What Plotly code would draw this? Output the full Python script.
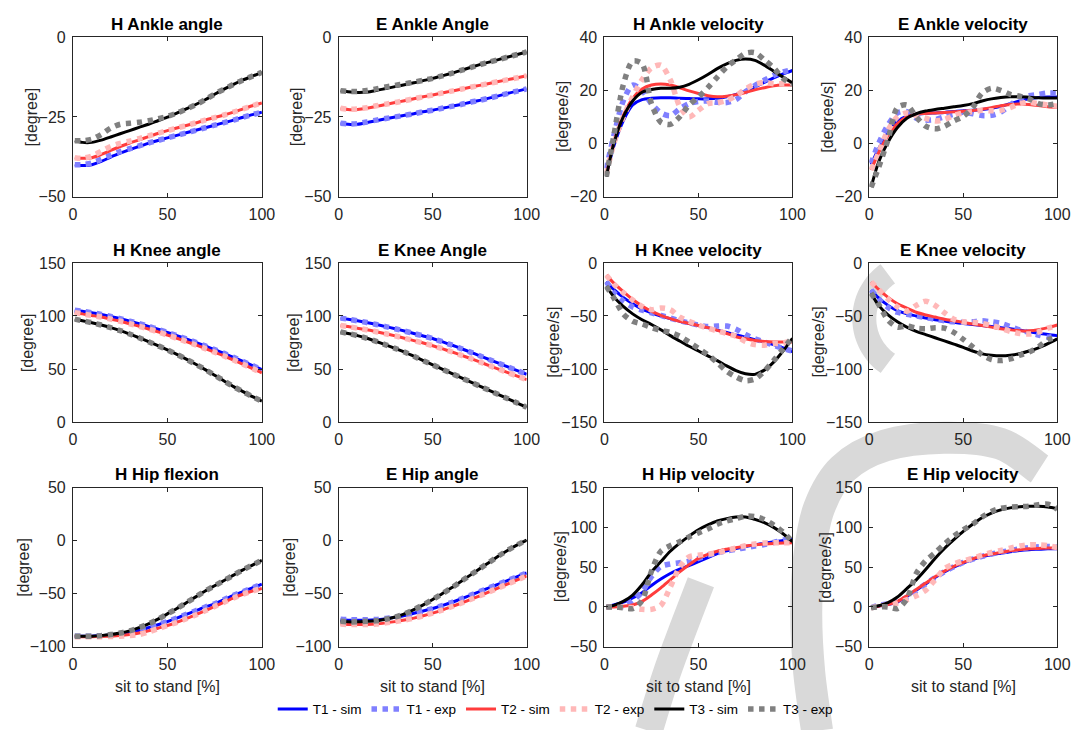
import math
import plotly.graph_objects as go

# ---------------- data ----------------
X = [1, 5, 10, 15, 20, 25, 30, 35, 40, 45, 50, 55, 60, 65, 70, 75, 80, 85, 90, 95, 100]

# H Ankle angle
HAA_T1S = [-40, -40.3, -40, -39, -37.6, -36.4, -35.3, -34.3, -33.3, -32.4, -31.6, -30.8, -30, -29.2, -28.4, -27.6, -26.8, -26, -25.1, -24.3, -23.5]
HAA_T1E = [-40, -40, -39.5, -38.3, -37, -35.9, -35, -34.1, -33.2, -32.4, -31.6, -30.8, -30, -29.2, -28.4, -27.6, -26.8, -26, -25.1, -24.3, -23.5]
HAA_T2S = [-37.8, -38, -37.8, -36.8, -35.5, -34.3, -33.2, -32.2, -31.2, -30.2, -29.3, -28.5, -27.7, -26.9, -26, -25.2, -24.4, -23.5, -22.5, -21.5, -20.6]
HAA_T2E = [-37.8, -38, -37.3, -35.8, -34.3, -33.3, -32.6, -31.8, -31, -30.1, -29.3, -28.5, -27.7, -26.9, -26, -25.2, -24.4, -23.5, -22.5, -21.5, -20.6]
HAA_T3S = [-32.5, -33, -33, -32.3, -31.3, -30.3, -29.3, -28.3, -27.3, -26.2, -25.1, -23.8, -22.5, -21.1, -19.6, -17.9, -16.3, -14.8, -13.4, -12.2, -11]
HAA_T3E = [-32.5, -32.5, -32, -30.5, -28.5, -27.3, -27, -26.7, -26.2, -25.6, -24.8, -23.8, -22.5, -21.2, -19.6, -17.8, -16.3, -14.8, -13.4, -12.2, -11]

# E Ankle Angle
EAA_T1S = [-27, -27.3, -27.3, -26.8, -26.2, -25.6, -25, -24.5, -24, -23.4, -22.9, -22.3, -21.7, -21.1, -20.4, -19.8, -19.1, -18.4, -17.6, -16.9, -16.2]
EAA_T1E = [-27, -27.2, -27.1, -26.6, -26, -25.5, -25, -24.5, -24, -23.4, -22.9, -22.3, -21.7, -21.1, -20.4, -19.8, -19.1, -18.4, -17.6, -16.9, -16.2]
EAA_T2S = [-22.3, -22.7, -22.7, -22.3, -21.7, -21.1, -20.5, -19.9, -19.3, -18.7, -18.1, -17.5, -16.9, -16.3, -15.7, -15.1, -14.5, -13.9, -13.3, -12.7, -12.1]
EAA_T2E = [-22.3, -22.6, -22.5, -22.1, -21.5, -21, -20.5, -19.9, -19.3, -18.7, -18.1, -17.5, -16.9, -16.3, -15.7, -15.1, -14.5, -13.9, -13.3, -12.7, -12.1]
EAA_T3S = [-16.8, -17.1, -17.3, -17.2, -16.7, -16.1, -15.5, -14.9, -14.3, -13.6, -12.9, -12.1, -11.3, -10.4, -9.5, -8.6, -7.8, -7, -6.2, -5.4, -4.6]
EAA_T3E = [-16.8, -17, -17, -16.7, -16.2, -15.6, -15.1, -14.6, -14.1, -13.5, -12.9, -12.1, -11.3, -10.4, -9.5, -8.6, -7.8, -7, -6.2, -5.4, -4.6]

# H Ankle velocity
HAV_T1S = [-12, -1, 8.5, 14.5, 16.5, 17, 17.2, 17.2, 17, 16.9, 16.8, 16.8, 17, 17.6, 18.5, 19.8, 21.3, 23, 24.7, 26.2, 27.5]
HAV_T1E = [-9.5, 3, 16, 22, 20, 15, 11.5, 10.5, 13, 15, 15.8, 16, 15.5, 15.4, 16.5, 19.5, 21.8, 23.8, 25.6, 27, 27.8]
HAV_T2S = [-12, 0.5, 10.5, 17, 20.5, 22, 22.4, 22, 21, 19.8, 18.8, 18, 17.6, 17.8, 18.4, 19.2, 20.2, 21, 21.7, 22, 22]
HAV_T2E = [-11.5, 0, 10, 17.5, 24, 28.5, 29.5, 24, 14, 10, 12.5, 15, 15.3, 16.2, 18, 20.5, 22.3, 23, 22.5, 22.5, 22.7]
HAV_T3S = [-12.5, 0, 10, 16, 19.3, 20.3, 20.8, 20.8, 21.2, 22.3, 24, 26, 28.2, 30, 31.3, 31.8, 31.3, 29.5, 27.2, 25, 22.8]
HAV_T3E = [-12.5, 3, 22, 31, 30, 15, 8, 7.2, 10, 14.5, 17.5, 21, 25, 28.8, 31.5, 34, 34.2, 31.5, 28.5, 24.5, 22.3]

# E Ankle velocity
EAV_T1S = [-8, -2, 4, 8.3, 10.3, 11, 11.3, 11.5, 11.7, 12, 12.3, 12.5, 12.8, 13.3, 14, 15, 16, 16.8, 17.3, 17.5, 17.5]
EAV_T1E = [-7.5, 0, 7, 11.5, 12, 9.5, 8.8, 9, 10, 11, 11.8, 11.2, 10.5, 10.6, 11.8, 14.5, 17, 18, 18.5, 19, 19]
EAV_T2S = [-10, -3.5, 3, 7.5, 10, 11, 11.3, 11.5, 11.7, 11.9, 12.1, 12.4, 12.9, 13.5, 14.2, 14.7, 14.9, 14.7, 14.3, 13.8, 13.5]
EAV_T2E = [-10, -3.5, 5, 10, 11.5, 10.5, 9.5, 8.5, 9, 10.5, 11.5, 12, 12.5, 12.3, 12.5, 13.5, 15, 15.5, 15, 14.5, 14]
EAV_T3S = [-16.5, -7, 0.5, 6, 9.5, 11.2, 12.2, 12.8, 13.3, 13.8, 14.3, 15, 16, 16.8, 17.3, 17.6, 17.6, 17.4, 17.2, 17.1, 17.1]
EAV_T3E = [-16.5, -9, 1.5, 13.5, 14.5, 10, 6.5, 5.5, 6.5, 8.5, 10.2, 13.5, 19, 20.8, 20, 18.5, 17.8, 16.8, 15, 14.5, 15]

# H Knee angle
HKA_T1S = [105.5, 104.5, 103, 101.5, 99.5, 97.5, 95.2, 92.8, 90.2, 87.5, 84.5, 81.5, 78.4, 75.2, 71.8, 68.3, 64.8, 61, 57.2, 53.3, 49.5]
HKA_T1E = [105.5, 104.5, 103, 101.5, 99.5, 97.5, 95.2, 92.8, 90.2, 87.5, 84.5, 81.5, 78.4, 75.2, 71.8, 68.3, 64.8, 61, 57.2, 53.3, 49.5]
HKA_T2S = [103, 102, 100.5, 99, 97, 95, 92.7, 90.3, 87.7, 85, 82, 79, 75.9, 72.7, 69.3, 65.8, 62.3, 58.5, 54.5, 50.5, 46.5]
HKA_T2E = [103, 102, 100.5, 99, 97, 95, 92.7, 90.3, 87.7, 85, 82, 79, 75.9, 72.7, 69.3, 65.8, 62.3, 58.5, 54.5, 50.5, 46.5]
HKA_T3S = [97, 95.5, 93.7, 91.5, 89, 86.2, 83, 79.5, 75.8, 72, 68, 63.8, 59.3, 54.5, 49.5, 44.2, 38.8, 33.4, 28.8, 24, 19.8]
HKA_T3E = [97, 95.5, 93.7, 91.5, 89, 86.2, 83, 79.5, 75.8, 72, 68, 63.8, 59.3, 54.5, 49.5, 44.2, 38.8, 33.4, 28.8, 24, 19.8]

# E Knee Angle
EKA_T1S = [98, 97, 95.5, 93.8, 92, 90, 88, 85.8, 83.5, 81.2, 78.8, 75.8, 72.7, 69.4, 66, 62.5, 59, 55.5, 52, 48.5, 45]
EKA_T1E = [98, 97, 95.5, 93.8, 92, 90, 88, 85.8, 83.5, 81.2, 78.8, 75.8, 72.7, 69.4, 66, 62.5, 59, 55.5, 52, 48.5, 45]
EKA_T2S = [91, 90, 88.5, 87, 85.2, 83.3, 81.3, 79.1, 76.8, 74.5, 72, 69.2, 66.3, 63.2, 60, 56.7, 53.3, 50, 46.6, 43.3, 40]
EKA_T2E = [91, 90, 88.5, 87, 85.2, 83.3, 81.3, 79.1, 76.8, 74.5, 72, 69.2, 66.3, 63.2, 60, 56.7, 53.3, 50, 46.6, 43.3, 40]
EKA_T3S = [85, 83.5, 81.5, 79, 76, 72.8, 69.5, 66, 62, 58, 54, 50, 46, 42, 38, 34, 30, 26, 22, 18, 14]
EKA_T3E = [85, 83.5, 81.5, 79, 76, 72.8, 69.5, 66, 62, 58, 54, 50, 46, 42, 38, 34, 30, 26, 22, 18, 14]

# H Knee velocity
HKV_T1S = [-17.5, -25, -32.5, -38.5, -43.5, -47, -50, -52.5, -55, -57, -59, -61, -63.3, -65.5, -67.8, -70, -72.3, -74.5, -77, -80, -83.5]
HKV_T1E = [-17.5, -28, -36, -41.5, -44.5, -47, -49.5, -52, -54.5, -56.5, -58.5, -60, -59.5, -59.5, -62.5, -67.5, -71.5, -74.5, -77.5, -80.5, -83]
HKV_T2S = [-11.5, -19, -27, -34.5, -40.5, -45.5, -49.5, -52.5, -55, -57, -59, -61, -63.5, -66.5, -69.5, -71.5, -73, -74, -74.5, -74.5, -74.5]
HKV_T2E = [-11.5, -20, -28, -35, -41, -44, -42.5, -44, -51, -55, -58.5, -61.5, -64, -66.5, -69, -74, -77, -77.5, -76, -75.5, -73]
HKV_T3S = [-22, -32, -41, -48, -53.5, -58, -63, -68.5, -73.5, -78.5, -83, -87.5, -92, -97, -101.5, -104.5, -105, -101, -93.5, -83, -71]
HKV_T3E = [-22, -33, -48, -55, -57.5, -61, -63.5, -65.5, -69, -74.5, -80.5, -86.5, -94, -102, -107.5, -111, -109.5, -102, -92, -81, -70]

# E Knee velocity
EKV_T1S = [-25.5, -33, -40, -45, -48, -50, -52, -53.5, -54.8, -56, -57, -58, -59, -60, -61, -62, -63.3, -64.8, -66.2, -67.5, -68.5]
EKV_T1E = [-25.5, -34, -42, -46.5, -48.5, -50, -51.5, -53, -54.5, -55.5, -56, -55.5, -54.5, -55.5, -57, -60, -63, -65.5, -68, -70, -68.5]
EKV_T2S = [-18, -25, -32.5, -38.5, -42.5, -46.5, -49, -51, -53, -54.5, -56, -57.5, -59, -60.5, -62, -63, -63.8, -64, -63, -61, -58.5]
EKV_T2E = [-18, -25, -34, -41.5, -45.5, -40, -36, -40, -47, -53, -55.5, -56, -57, -59, -61.5, -64.5, -66.5, -67, -65, -61.5, -59]
EKV_T3S = [-28.5, -40, -49, -55.5, -60.5, -64.5, -67.5, -70.5, -73.5, -76.5, -79.5, -83, -85.7, -87, -87.5, -87, -85.5, -83, -80, -76, -71.5]
EKV_T3E = [-28.5, -39, -54, -60.5, -59.5, -61.5, -62, -61, -61.5, -65.5, -72, -79, -86.5, -91, -92, -90.5, -87, -84, -79, -72.5, -70]

# H Hip flexion
HHA_T1S = [-90, -90, -90, -89.5, -89, -88, -86.5, -84.5, -82, -79.3, -76.3, -73, -69.5, -66, -62.5, -59.5, -55.5, -51.5, -48, -44.5, -41]
HHA_T1E = [-90, -90, -90, -89.5, -89, -88, -86.5, -84.5, -82, -79.3, -76.3, -73, -69.5, -66, -62.5, -59.5, -55.5, -51.5, -48, -44.5, -41]
HHA_T2S = [-90.5, -90.5, -90.5, -90.3, -90, -89.5, -88.5, -87, -85, -82.5, -80, -77, -73.5, -70, -66, -62, -58, -54, -50.5, -47.5, -45]
HHA_T2E = [-90.5, -90.5, -90.5, -90.5, -90.3, -90, -89.5, -88.5, -86, -83, -80, -77, -73.5, -70, -66, -62, -58, -54, -50.5, -47.5, -45]
HHA_T3S = [-90, -90, -90, -89.5, -88.5, -87, -85, -82, -78.5, -74, -69, -64, -58.5, -53, -47.5, -42.5, -37.5, -32.5, -27.5, -23, -18.5]
HHA_T3E = [-90, -90, -90, -89.5, -88.5, -87, -85, -82, -78.5, -74, -69, -64, -58.5, -53, -47.5, -42.5, -37.5, -32.5, -27.5, -23, -18.5]

# E Hip angle
EHA_T1S = [-74.5, -75, -75, -75, -74.5, -73.5, -72.3, -70.5, -68.5, -66.3, -64, -61.3, -58.3, -55, -51.5, -48, -44.5, -41, -37.5, -34, -30.5]
EHA_T1E = [-74, -74.5, -74.5, -74.5, -74.2, -73.3, -72.2, -70.5, -68.5, -66.3, -64, -61.3, -58.3, -55, -51.5, -48, -44.5, -41, -37.5, -34, -30.5]
EHA_T2S = [-78.5, -79, -79, -79, -78.5, -77.5, -76.3, -74.8, -73, -70.8, -68.3, -65.5, -62.3, -59, -55.5, -52, -48.3, -44.5, -40.8, -37, -33.3]
EHA_T2E = [-78.5, -79, -79, -79, -78.5, -77.5, -76.3, -74.8, -73, -70.8, -68.3, -65.5, -62.3, -59, -55.5, -52, -48.3, -44.5, -40.8, -37, -33.3]
EHA_T3S = [-76, -76.5, -76.5, -76, -75.5, -74, -72, -69, -65, -60.5, -55.5, -50, -44.5, -38.5, -32.5, -26.5, -20.5, -14.5, -9, -4, 0.5]
EHA_T3E = [-76, -76.5, -76.5, -76, -75.5, -74, -72, -69, -65, -60.5, -55.5, -50, -44.5, -38.5, -32.5, -26.5, -20.5, -14.5, -9, -4, 0.5]

# H Hip velocity
HHV_T1S = [0, 2.5, 6, 11.5, 18, 27, 35, 42, 47.5, 52, 57, 62, 67, 70.5, 73.5, 76, 78, 80, 82, 83.5, 85]
HHV_T1E = [0, 0, 0.5, 8, 19, 38, 51, 54, 55.5, 57.5, 61, 65, 68, 70.5, 72.5, 74.5, 76.5, 78.5, 81, 84, 86.5]
HHV_T2S = [0, 0, 1, 2.5, 7, 15, 24, 34, 44, 53, 61, 66, 70, 72.5, 74.5, 76.5, 78, 79, 79.8, 80.3, 80.6]
HHV_T2E = [0, 0, 0, -1, -3, -3, 2, 25, 50, 63, 65, 66.5, 68, 71, 74, 77, 79, 80.5, 80.6, 80.6, 80.6]
HHV_T3S = [0, 2, 7, 15, 28, 44, 57, 70, 80, 89, 97, 103, 108, 111, 113, 113, 110, 106, 100, 92, 82]
HHV_T3E = [0, 0, -1, -2, 8, 45, 70, 77, 82, 88, 93, 98, 104, 108, 111, 114, 113.5, 110, 103, 94, 82]

# E Hip velocity
EHV_T1S = [-1, 1, 3, 6.5, 13, 21, 29, 37, 44, 50, 55, 59.5, 63, 65.5, 67.5, 69.5, 71, 72, 72.5, 73, 73]
EHV_T1E = [-1, 2, 4, 7, 12, 20, 29, 37, 44.5, 50.5, 56, 60, 63.5, 66.5, 69, 71, 73, 74.5, 75.5, 76, 75]
EHV_T2S = [-1, 1, 3, 7, 14, 22, 30, 38, 45, 51, 56, 60.5, 64, 66.5, 68.5, 70.5, 72, 73, 73.5, 74, 74]
EHV_T2E = [-1, 1, 3, 5, 9, 14, 21, 34, 48, 54, 58, 61, 65, 68.5, 71, 74, 76.5, 78, 78, 77, 74.5]
EHV_T3S = [-1, 1.5, 5.5, 12.5, 23, 34, 47, 61, 73.5, 84.5, 95, 104, 112, 118, 122, 124.5, 126, 126.5, 126.5, 125.5, 123.5]
EHV_T3E = [-1, 0, 0, -2, 10, 42, 58, 68, 79, 89, 97, 104, 113, 120, 124, 125.5, 126, 126.5, 128.5, 129, 123]

TITLES = ["H Ankle angle", "E Ankle Angle", "H Ankle velocity", "E Ankle velocity",
          "H Knee angle", "E Knee Angle", "H Knee velocity", "E Knee velocity",
          "H Hip flexion", "E Hip angle", "H Hip velocity", "E Hip velocity"]
YLABELS = ["[degree]", "[degree]", "[degree/s]", "[degree/s]"] * 3
XLABEL = "sit to stand [%]"
X_TICKS = [0, 50, 100]
Y_TICKS = [[-50, -25, 0], [-50, -25, 0], [-20, 0, 20, 40], [-20, 0, 20, 40],
           [0, 50, 100, 150], [0, 50, 100, 150], [-150, -100, -50, 0], [-150, -100, -50, 0],
           [-100, -50, 0, 50], [-100, -50, 0, 50], [-50, 0, 50, 100, 150], [-50, 0, 50, 100, 150]]
SERIES_NAMES = ["T1 - sim", "T1 - exp", "T2 - sim", "T2 - exp", "T3 - sim", "T3 - exp"]

PANELS = [
    [HAA_T1S, HAA_T1E, HAA_T2S, HAA_T2E, HAA_T3S, HAA_T3E],
    [EAA_T1S, EAA_T1E, EAA_T2S, EAA_T2E, EAA_T3S, EAA_T3E],
    [HAV_T1S, HAV_T1E, HAV_T2S, HAV_T2E, HAV_T3S, HAV_T3E],
    [EAV_T1S, EAV_T1E, EAV_T2S, EAV_T2E, EAV_T3S, EAV_T3E],
    [HKA_T1S, HKA_T1E, HKA_T2S, HKA_T2E, HKA_T3S, HKA_T3E],
    [EKA_T1S, EKA_T1E, EKA_T2S, EKA_T2E, EKA_T3S, EKA_T3E],
    [HKV_T1S, HKV_T1E, HKV_T2S, HKV_T2E, HKV_T3S, HKV_T3E],
    [EKV_T1S, EKV_T1E, EKV_T2S, EKV_T2E, EKV_T3S, EKV_T3E],
    [HHA_T1S, HHA_T1E, HHA_T2S, HHA_T2E, HHA_T3S, HHA_T3E],
    [EHA_T1S, EHA_T1E, EHA_T2S, EHA_T2E, EHA_T3S, EHA_T3E],
    [HHV_T1S, HHV_T1E, HHV_T2S, HHV_T2E, HHV_T3S, HHV_T3E],
    [EHV_T1S, EHV_T1E, EHV_T2S, EHV_T2E, EHV_T3S, EHV_T3E],
]

# ---------------- styling ----------------
W, H = 1086, 730
FONT = "Liberation Sans, Arial, Helvetica, sans-serif"
AX = "rgb(38,38,38)"
STYLES = [
    dict(color="rgb(0,0,255)", width=3, dash="solid"),
    dict(color="rgb(128,128,255)", width=5.5, dash="dot"),
    dict(color="rgb(255,60,60)", width=3, dash="solid"),
    dict(color="rgb(255,184,184)", width=5.5, dash="dot"),
    dict(color="rgb(0,0,0)", width=3, dash="solid"),
    dict(color="rgb(128,128,128)", width=5.5, dash="dot"),
]
COL_PX = [(70, 262), (340, 531), (610, 801), (879, 1070)]
ROW_PX = [(30, 193), (261, 424), (491, 654)]
YLABEL_OFFSET = [42, 42, 42, 42, 46, 46, 52, 52, 51, 50, 45, 45]


def px_x(p):
    return p / W


def px_y(p):
    return 1 - p / H


def smooth_path(points):
    """Catmull-Rom curve through pixel points, returned as an SVG path in paper units."""
    pts = [(px_x(a), px_y(b)) for a, b in points]
    d = "M %.5f,%.5f" % pts[0]
    for i in range(len(pts) - 1):
        p0 = pts[i - 1] if i > 0 else pts[i]
        p1 = pts[i]
        p2 = pts[i + 1]
        p3 = pts[i + 2] if i + 2 < len(pts) else pts[i + 1]
        c1 = (p1[0] + (p2[0] - p0[0]) / 6, p1[1] + (p2[1] - p0[1]) / 6)
        c2 = (p2[0] - (p3[0] - p1[0]) / 6, p2[1] - (p3[1] - p1[1]) / 6)
        d += " C %.5f,%.5f %.5f,%.5f %.5f,%.5f" % (c1[0], c1[1], c2[0], c2[1], p2[0], p2[1])
    return d


def arc_points(cx, cy, r, a0, a1, n=24):
    return [(cx + r * math.cos(math.radians(a0 + (a1 - a0) * k / n)),
             cy + r * math.sin(math.radians(a0 + (a1 - a0) * k / n))) for k in range(n + 1)]


fig = go.Figure()
annotations = []
layout = {}

for i, series in enumerate(PANELS):
    r, c = divmod(i, 4)
    n = i + 1
    xa = "x" if n == 1 else f"x{n}"
    ya = "y" if n == 1 else f"y{n}"
    for k, ys in enumerate(series):
        st = STYLES[k]
        fig.add_trace(go.Scatter(
            x=X, y=ys, xaxis=xa, yaxis=ya, mode="lines",
            line=dict(color=st["color"], width=st["width"], dash=st["dash"], shape="spline", smoothing=0.8),
            name=SERIES_NAMES[k], legendgroup=SERIES_NAMES[k], showlegend=(i == 0),
            hoverinfo="skip"))
    x0, x1 = COL_PX[c]
    t0, b0 = ROW_PX[r]
    yt = Y_TICKS[i]
    layout["xaxis" if n == 1 else f"xaxis{n}"] = dict(
        domain=[px_x(x0), px_x(x1)], anchor=ya, range=[0, 100], tickvals=X_TICKS,
        ticks="inside", ticklen=4, tickwidth=1, tickcolor=AX, showline=True, linecolor=AX,
        linewidth=1, mirror="ticks", showgrid=False, zeroline=False,
        tickfont=dict(size=16, color=AX, family=FONT), ticklabelstandoff=3)
    layout["yaxis" if n == 1 else f"yaxis{n}"] = dict(
        domain=[px_y(b0), px_y(t0)], anchor=xa, range=[yt[0], yt[-1]], tickvals=yt,
        ticks="inside", ticklen=4, tickwidth=1, tickcolor=AX, showline=True, linecolor=AX,
        linewidth=1, mirror="ticks", showgrid=False, zeroline=False,
        tickfont=dict(size=16, color=AX, family=FONT), ticklabelstandoff=3)
    cx = (x0 + x1) / 2
    annotations.append(dict(text="<b>" + TITLES[i] + "</b>", x=px_x(cx), y=px_y(t0 - 13),
                            xref="paper", yref="paper", showarrow=False, xanchor="center",
                            yanchor="middle", font=dict(size=17, color="black", family=FONT)))
    annotations.append(dict(text=YLABELS[i], x=px_x(x0 - YLABEL_OFFSET[i]), y=px_y((t0 + b0) / 2),
                            xref="paper", yref="paper", showarrow=False, textangle=-90,
                            xanchor="center", yanchor="middle",
                            font=dict(size=16, color=AX, family=FONT)))
    if r == 2:
        annotations.append(dict(text=XLABEL, x=px_x(cx), y=px_y(b0 + 41),
                                xref="paper", yref="paper", showarrow=False,
                                xanchor="center", yanchor="middle",
                                font=dict(size=16, color=AX, family=FONT)))

# light-grey background watermark strokes
WM = "rgb(217,217,217)"
wm_shapes = [
    dict(type="path", xref="paper", yref="paper", layer="below",
         path=smooth_path(arc_points(930, 318, 56, 125, 235)),
         line=dict(color=WM, width=24)),
    dict(type="path", xref="paper", yref="paper", layer="below",
         path=smooth_path([(1052, 472), (1012, 446), (955, 440), (895, 448), (852, 472),
                           (828, 512), (818, 562), (815, 620), (818, 680), (826, 740)]),
         line=dict(color=WM, width=32)),
    dict(type="path", xref="paper", yref="paper", layer="below",
         path=smooth_path([(708, 588), (692, 630), (673, 682), (655, 740)]),
         line=dict(color=WM, width=28)),
]

fig.update_layout(
    width=W, height=H, margin=dict(l=0, r=0, t=0, b=0),
    paper_bgcolor="white", plot_bgcolor="rgba(0,0,0,0)",
    font=dict(family=FONT, color=AX),
    showlegend=True,
    legend=dict(orientation="h", x=px_x(560), y=px_y(718), xanchor="center", yanchor="middle",
                font=dict(size=13.5, color="black", family=FONT), bgcolor="rgba(0,0,0,0)",
                itemwidth=30, tracegroupgap=0),
    annotations=annotations,
    shapes=wm_shapes,
    **layout,
)

fig.write_html("out.html")
